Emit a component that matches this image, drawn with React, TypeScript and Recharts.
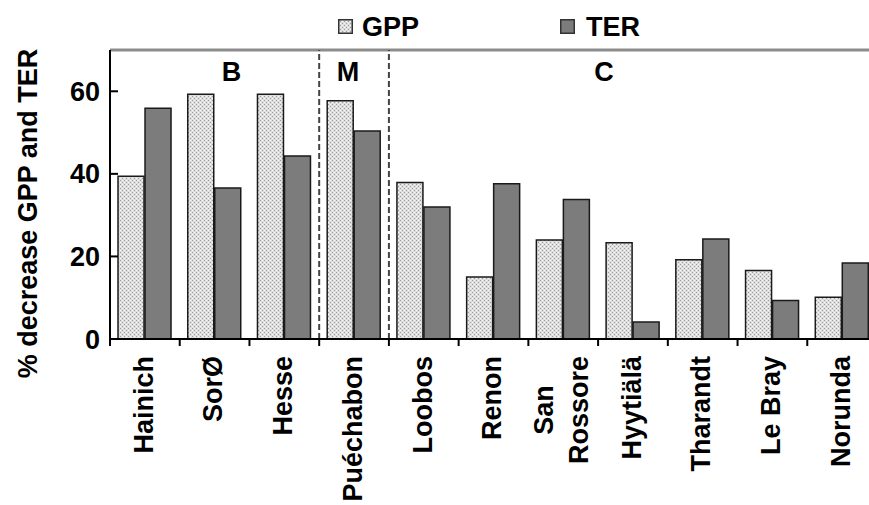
import React from 'react';
import { BarChart, Bar, XAxis, YAxis, ReferenceLine, ReferenceDot } from 'recharts';

const sites = ['Hainich', 'SorØ', 'Hesse', 'Puéchabon', 'Loobos', 'Renon', 'San\nRossore', 'Hyytiälä', 'Tharandt', 'Le Bray', 'Norunda'];
const gppValues = [39.4, 59.3, 59.3, 57.7, 37.9, 15.0, 24.0, 23.3, 19.2, 16.6, 10.1];
const terValues = [55.9, 36.6, 44.3, 50.4, 32.0, 37.6, 33.8, 4.1, 24.2, 9.3, 18.4];
const yTicks = [0, 20, 40, 60];
const groupLabels = ['B', 'M', 'C'];
const groupSites = ['SorØ', 'Puéchabon', 'Hyytiälä'];
const groupShift = [17, -6, -29];
const groupDividers = ['Puéchabon', 'Loobos'];
const yLabel = '% decrease GPP and TER';

const data = sites.map((site, i) => ({ site, gpp: gppValues[i], ter: terValues[i] }));

const FONT = "'Liberation Sans', Arial, sans-serif";
const FS = 27;

let ctx: CanvasRenderingContext2D | null = null;
const measure = (s: string) => {
  if (!ctx) ctx = document.createElement('canvas').getContext('2d');
  if (!ctx) return s.length * 15;
  ctx.font = `bold ${FS}px ${FONT}`;
  return ctx.measureText(s).width;
};

const XTick = (props: any) => {
  const { x, y, payload } = props;
  const lines = String(payload.value).split('\n');
  const top = y + 17;
  const maxW = Math.max(...lines.map(measure));
  const gap = 35;
  const half = typeof payload.offset === 'number' ? payload.offset : 0;
  return (
    <g>
      {half > 0 && <line x1={x - half} x2={x - half} y1={y} y2={y + 7} stroke="#000" strokeWidth={2} />}
      {lines.map((l, i) => {
        const lx = x - 2 + (i - (lines.length - 1) / 2) * gap;
        return (
          <text
            key={i}
            transform={`translate(${lx},${top + maxW / 2}) rotate(-90)`}
            textAnchor="middle"
            dy="0.36em"
            fontFamily={FONT}
            fontWeight="bold"
            fontSize={FS}
            fill="#000"
          >
            {l}
          </text>
        );
      })}
    </g>
  );
};

const YLabel = (props: any) => {
  const vb = props.viewBox;
  return (
    <text
      transform={`translate(${vb.x + 37},${vb.y + vb.height / 2 + 19}) rotate(-90)`}
      textAnchor="middle"
      fontFamily={FONT}
      fontWeight="bold"
      fontSize={FS}
      fill="#000"
    >
      {yLabel}
    </text>
  );
};

const DotPattern = ({ id }: { id: string }) => (
  <pattern id={id} width="4" height="4" patternUnits="userSpaceOnUse">
    <rect width="4" height="4" fill="#dedede" />
    <rect x="0" y="0" width="1" height="1" fill="#9c9c9c" />
    <rect x="2" y="2" width="1" height="1" fill="#9c9c9c" />
    <rect x="2" y="0" width="1" height="1" fill="#f6f6f6" />
    <rect x="0" y="2" width="1" height="1" fill="#f6f6f6" />
  </pattern>
);

const LegendBox = ({ fill }: { fill: string }) => (
  <svg width={15} height={15} style={{ display: 'block' }}>
    <defs>
      <DotPattern id="dotsLegend" />
    </defs>
    <rect x={0.75} y={0.75} width={13.5} height={13.5} fill={fill} stroke="#333" strokeWidth={1.5} />
  </svg>
);

export default function App() {
  return (
    <div style={{ position: 'fixed', left: 0, top: 0, width: 869, height: 505, overflow: 'hidden', background: '#fff' }}>
      <div style={{ position: 'absolute', left: 338, top: 19 }}>
        <LegendBox fill="url(#dotsLegend)" />
      </div>
      <div style={{ position: 'absolute', left: 362, top: 9, fontFamily: FONT, fontWeight: 'bold', fontSize: FS, lineHeight: '36px' }}>GPP</div>
      <div style={{ position: 'absolute', left: 560, top: 19 }}>
        <LegendBox fill="#7c7c7c" />
      </div>
      <div style={{ position: 'absolute', left: 586, top: 9, fontFamily: FONT, fontWeight: 'bold', fontSize: FS, lineHeight: '36px' }}>TER</div>
      <div style={{ position: 'absolute', left: 0, top: 0 }}>
        <BarChart
          width={880}
          height={505}
          data={data}
          margin={{ top: 50, right: 3, bottom: 0, left: 0 }}
          barCategoryGap="11.5%"
          barGap={1}
        >
          <defs>
            <DotPattern id="dots" />
          </defs>
          <XAxis
            xAxisId="cat"
            dataKey="site"
            height={166}
            interval={0}
            tickLine={false}
            tickSize={0}
            tickMargin={0}
            tick={<XTick />}
            axisLine={{ stroke: '#000', strokeWidth: 2 }}
          />
          <YAxis
            width={110}
            domain={[0, 70]}
            ticks={yTicks}
            allowDataOverflow
            tickSize={-8}
            tickMargin={18}
            tick={{ fontFamily: FONT, fontWeight: 'bold', fontSize: FS, fill: '#000' }}
            tickLine={{ stroke: '#000', strokeWidth: 2 }}
            axisLine={{ stroke: '#000', strokeWidth: 2 }}
            label={{ content: <YLabel /> }}
          />
          <ReferenceLine xAxisId="cat" y={70} stroke="#8c8c8c" strokeWidth={3} />
          {groupDividers.map((d) => (
            <ReferenceLine key={d} xAxisId="cat" x={d} position="start" stroke="#444" strokeWidth={2} strokeDasharray="6 3" />
          ))}
          <Bar xAxisId="cat" dataKey="gpp" fill="url(#dots)" stroke="#1a1a1a" strokeWidth={1.5} isAnimationActive={false} />
          <Bar xAxisId="cat" dataKey="ter" fill="#7c7c7c" stroke="#1a1a1a" strokeWidth={1.5} isAnimationActive={false} />
          {groupLabels.map((g, i) => (
            <ReferenceDot
              key={g}
              xAxisId="cat"
              x={groupSites[i]}
              y={64.8}
              r={0}
              fill="none"
              stroke="none"
              label={{ value: g, position: 'center', dx: groupShift[i], fontFamily: FONT, fontWeight: 'bold', fontSize: FS, fill: '#000' }}
            />
          ))}
        </BarChart>
      </div>
    </div>
  );
}
